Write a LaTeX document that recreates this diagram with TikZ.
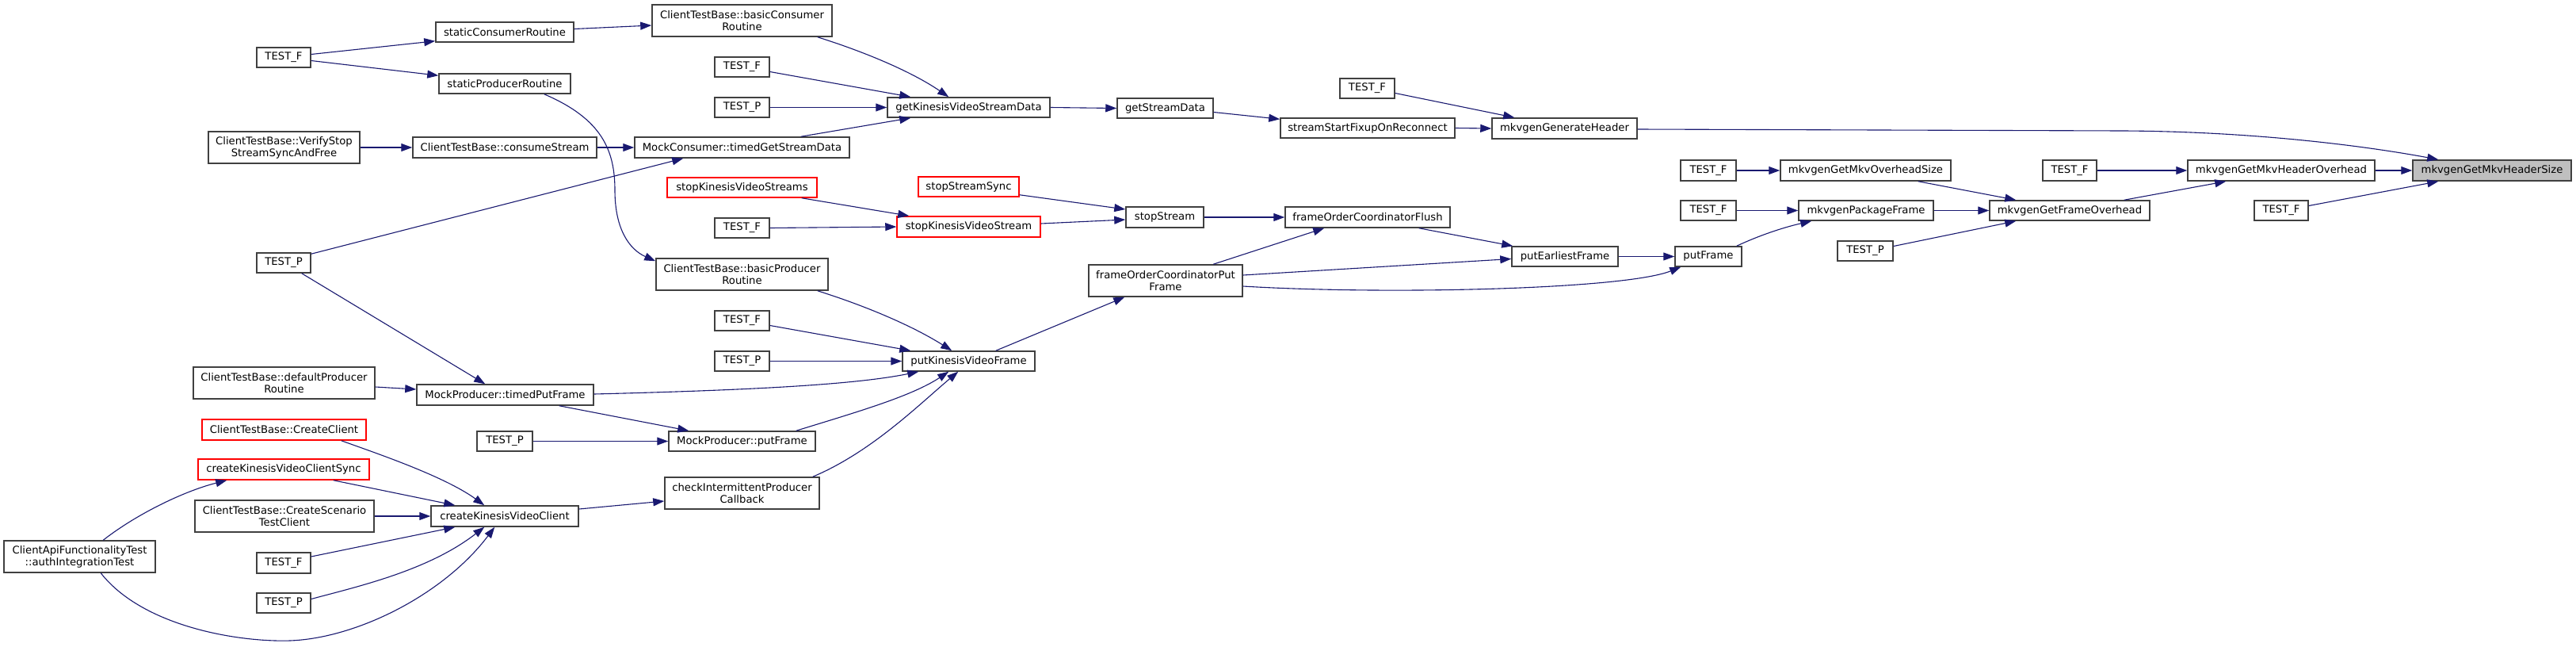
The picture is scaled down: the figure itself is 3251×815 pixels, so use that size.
\documentclass[tikz,border=0pt]{standalone}
\usepackage{fontspec}
\setmainfont{DejaVu Sans}
\usetikzlibrary{calc,arrows.meta}
\definecolor{edgecol}{HTML}{191970}
\definecolor{boxcol}{HTML}{404040}
\definecolor{hlfill}{HTML}{BFBFBF}
\newcommand\mynode[7]{\node[#1, minimum width={(#4-#3)*0.5pt}, minimum height={(#6-#5)*0.5pt}] (#2) at ({(#3+#4)/2},{(#5+#6)/2}) {#7};}
\begin{document}
\begin{tikzpicture}[x=0.5pt, y=-0.5pt,
  box/.style={draw=boxcol, line width=0.75pt, fill=white, inner sep=0pt, font=\fontsize{6.6}{7.6}\selectfont, align=center},
  redbox/.style={box, draw=red},
  hlbox/.style={box, fill=hlfill},
  edge/.style={draw=edgecol, line width=0.55pt, -{Triangle[length=7pt,width=5pt]}}]
\useasboundingbox (0,0) rectangle (3251,815);
% nodes
\mynode{box}{authIT}{5}{196}{682}{722}{ClientApiFunctionalityTest\\::authIntegrationTest}
\mynode{box}{tf1}{324}{392}{60}{85}{TEST\_F}
\mynode{box}{verify}{263}{454}{166}{206}{ClientTestBase::VerifyStop\\StreamSyncAndFree}
\mynode{box}{tp1}{324}{392}{319}{344}{TEST\_P}
\mynode{box}{defProd}{244}{473}{463}{503}{ClientTestBase::defaultProducer\\Routine}
\mynode{redbox}{createClient}{255}{462}{529}{555}{ClientTestBase::CreateClient}
\mynode{redbox}{kvcSync}{250}{466}{579}{605}{createKinesisVideoClientSync}
\mynode{box}{scenario}{246}{472}{631}{671}{ClientTestBase::CreateScenario\\TestClient}
\mynode{box}{tf2}{324}{392}{697}{723}{TEST\_F}
\mynode{box}{tp2}{324}{392}{748}{773}{TEST\_P}
\mynode{box}{staticCons}{550}{724}{28}{53}{staticConsumerRoutine}
\mynode{box}{staticProd}{554}{720}{93}{118}{staticProducerRoutine}
\mynode{box}{consume}{521}{753}{173}{199}{ClientTestBase::consumeStream}
\mynode{box}{timedPut}{526}{749}{485}{511}{MockProducer::timedPutFrame}
\mynode{box}{tp3}{602}{672}{544}{569}{TEST\_P}
\mynode{box}{kvClient}{544}{730}{638}{664}{createKinesisVideoClient}
\mynode{box}{basicCons}{823}{1050}{6}{46}{ClientTestBase::basicConsumer\\Routine}
\mynode{box}{tf3}{902}{971}{72}{97}{TEST\_F}
\mynode{box}{tp4}{902}{971}{123}{148}{TEST\_P}
\mynode{box}{timedGet}{801}{1072}{173}{199}{MockConsumer::timedGetStreamData}
\mynode{redbox}{stopKVSs}{842}{1031}{224}{249}{stopKinesisVideoStreams}
\mynode{box}{tf4}{902}{971}{275}{300}{TEST\_F}
\mynode{box}{basicProd}{828}{1045}{326}{366}{ClientTestBase::basicProducer\\Routine}
\mynode{box}{tf5}{902}{971}{392}{417}{TEST\_F}
\mynode{box}{tp5}{902}{971}{443}{468}{TEST\_P}
\mynode{box}{mockPut}{844}{1029}{544}{569}{MockProducer::putFrame}
\mynode{box}{checkInt}{839}{1034}{602}{642}{checkIntermittentProducer\\Callback}
\mynode{box}{getKVSD}{1120}{1325}{123}{148}{getKinesisVideoStreamData}
\mynode{redbox}{stopSync}{1159}{1286}{223}{248}{stopStreamSync}
\mynode{redbox}{stopKVS}{1132}{1313}{273}{299}{stopKinesisVideoStream}
\mynode{box}{putKVF}{1139}{1306}{443}{468}{putKinesisVideoFrame}
\mynode{box}{getSD}{1410}{1531}{124}{149}{getStreamData}
\mynode{box}{stopStream}{1421}{1519}{261}{287}{stopStream}
\mynode{box}{focPut}{1374}{1568}{334}{374}{frameOrderCoordinatorPut\\Frame}
\mynode{box}{tf6}{1691}{1760}{99}{124}{TEST\_F}
\mynode{box}{streamStart}{1616}{1836}{149}{174}{streamStartFixupOnReconnect}
\mynode{box}{focFlush}{1622}{1830}{261}{287}{frameOrderCoordinatorFlush}
\mynode{box}{genHeader}{1883}{2066}{149}{175}{mkvgenGenerateHeader}
\mynode{box}{putEarliest}{1908}{2042}{311}{336}{putEarliestFrame}
\mynode{box}{tf7}{2121}{2191}{202}{228}{TEST\_F}
\mynode{box}{tf8}{2121}{2191}{253}{278}{TEST\_F}
\mynode{box}{putFrame}{2114}{2198}{311}{336}{putFrame}
\mynode{box}{overheadSize}{2247}{2462}{202}{228}{mkvgenGetMkvOverheadSize}
\mynode{box}{packFrame}{2270}{2440}{253}{278}{mkvgenPackageFrame}
\mynode{box}{tp6}{2319}{2389}{304}{329}{TEST\_P}
\mynode{box}{frameOverhead}{2511}{2713}{253}{278}{mkvgenGetFrameOverhead}
\mynode{box}{tf9}{2578}{2646}{202}{228}{TEST\_F}
\mynode{box}{hdrOverhead}{2761}{2997}{202}{228}{mkvgenGetMkvHeaderOverhead}
\mynode{box}{tf10}{2845}{2913}{253}{278}{TEST\_F}
\mynode{hlbox}{hdrSize}{3045}{3245}{202}{228}{mkvgenGetMkvHeaderSize}
% edges
\draw[edge] ($(tf1.east)+(0,-4)$) -- ($(staticCons.south west)+(0,-2)$);
\draw[edge] ($(tf1.east)+(0,4)$) -- ($(staticProd.north west)+(0,3)$);
\draw[edge] ($(staticCons.east)+(0,-4)$) -- ($(basicCons.west)+(0,6)$);
\draw[edge] ($(staticProd.south east)+(-34,0)$) .. controls (760,150) and (776,190) .. (776,240) .. controls (776,290) and (795,315) .. ($(basicProd.north west)+(0,4)$);
\draw[edge] (verify.east) -- (consume.west);
\draw[edge] (consume.east) -- (timedGet.west);
\draw[edge] ($(tp1.north east)+(0,2)$) -- ($(timedGet.south west)+(62,0)$);
\draw[edge] ($(tp1.south east)+(-12,0)$) -- ($(timedPut.north west)+(87,0)$);
\draw[edge] ($(basicCons.south east)+(-19,0)$) .. controls (1090,65) and (1150,90) .. ($(getKVSD.north west)+(78,0)$);
\draw[edge] ($(tf3.east)+(0,6)$) -- ($(getKVSD.north west)+(30,0)$);
\draw[edge] (tp4.east) -- (getKVSD.west);
\draw[edge] ($(timedGet.north east)+(-62,0)$) -- ($(getKVSD.south west)+(30,0)$);
\draw[edge] (getKVSD.east) -- (getSD.west);
\draw[edge] ($(getSD.east)+(0,5)$) -- ($(streamStart.north west)+(0,2)$);
\draw[edge] (streamStart.east) -- (genHeader.west);
\draw[edge] ($(tf6.east)+(0,6)$) -- ($(genHeader.north west)+(29,0)$);
\draw[edge] ($(genHeader.east)+(0,1)$) -- (2680,165) .. controls (2850,166) and (2990,185) .. ($(hdrSize.north west)+(33,0)$);
\draw[edge] ($(stopKVSs.south east)+(-20,0)$) -- ($(stopKVS.north west)+(16,0)$);
\draw[edge] (tf4.east) -- (stopKVS.west);
\draw[edge] ($(stopSync.south east)+(0,-3)$) -- ($(stopStream.west)+(0,-10)$);
\draw[edge] ($(stopKVS.east)+(0,-4)$) -- ($(stopStream.west)+(0,3)$);
\draw[edge] (stopStream.east) -- (focFlush.west);
\draw[edge] ($(focPut.north west)+(158,0)$) -- ($(focFlush.south west)+(50,0)$);
\draw[edge] ($(focFlush.south east)+(-40,0)$) -- ($(putEarliest.north west)+(2,0)$);
\draw[edge] ($(focPut.east)+(0,-7)$) -- ($(putEarliest.west)+(0,3)$);
\draw[edge] ($(focPut.east)+(0,7)$) .. controls (1750,372) and (2050,365) .. ($(putFrame.south west)+(8,0)$);
\draw[edge] (putEarliest.east) -- (putFrame.west);
\draw[edge] ($(putFrame.north east)+(-7,0)$) .. controls (2220,297) and (2250,287) .. ($(packFrame.south west)+(17,0)$);
\draw[edge] (tf8.east) -- (packFrame.west);
\draw[edge] (tf7.east) -- (overheadSize.west);
\draw[edge] ($(overheadSize.south east)+(-42,0)$) -- ($(frameOverhead.north west)+(34,0)$);
\draw[edge] (packFrame.east) -- (frameOverhead.west);
\draw[edge] ($(tp6.east)+(0,-6)$) -- ($(frameOverhead.south west)+(34,0)$);
\draw[edge] ($(frameOverhead.north east)+(-33,0)$) -- ($(hdrOverhead.south west)+(49,0)$);
\draw[edge] (tf9.east) -- (hdrOverhead.west);
\draw[edge] (hdrOverhead.east) -- (hdrSize.west);
\draw[edge] ($(tf10.east)+(0,-6)$) -- ($(hdrSize.south west)+(33,0)$);
\draw[edge] ($(putKVF.north east)+(-50,0)$) -- ($(focPut.south west)+(46,0)$);
\draw[edge] ($(basicProd.south east)+(-14,0)$) .. controls (1090,385) and (1150,410) .. ($(putKVF.north west)+(63,0)$);
\draw[edge] ($(tf5.east)+(0,6)$) -- ($(putKVF.north west)+(11,0)$);
\draw[edge] (tp5.east) -- (putKVF.west);
\draw[edge] ($(timedPut.east)+(0,-1)$) .. controls (950,492) and (1080,485) .. ($(putKVF.south west)+(21,0)$);
\draw[edge] ($(mockPut.north east)+(-25,0)$) .. controls (1080,520) and (1150,500) .. ($(putKVF.south west)+(59,0)$);
\draw[edge] ($(checkInt.north east)+(-9,0)$) .. controls (1100,570) and (1160,510) .. ($(putKVF.south west)+(71,0)$);
\draw[edge] ($(defProd.east)+(0,5)$) -- ($(timedPut.west)+(0,-7)$);
\draw[edge] ($(timedPut.south east)+(-44,0)$) -- ($(mockPut.north west)+(26,0)$);
\draw[edge] (tp3.east) -- (mockPut.west);
\draw[edge] ($(kvClient.east)+(0,-9)$) -- ($(checkInt.west)+(0,10)$);
\draw[edge] ($(createClient.south east)+(-32,0)$) .. controls (470,570) and (560,600) .. ($(kvClient.north west)+(68,0)$);
\draw[edge] ($(kvcSync.south east)+(-46,0)$) -- ($(kvClient.north west)+(31,0)$);
\draw[edge] (scenario.east) -- (kvClient.west);
\draw[edge] ($(tf2.east)+(0,-8)$) -- ($(kvClient.south west)+(31,0)$);
\draw[edge] ($(tp2.east)+(0,-5)$) .. controls (450,740) and (540,720) .. ($(kvClient.south west)+(68,0)$);
\draw[edge] ($(authIT.north west)+(126,0)$) .. controls (170,650) and (230,620) .. ($(kvcSync.south west)+(37,0)$);
\draw[edge] ($(authIT.south west)+(123,0)$) .. controls (180,790) and (300,810) .. (366,808) .. controls (450,805) and (560,750) .. ($(kvClient.south west)+(81,0)$);
\end{tikzpicture}
\end{document}
